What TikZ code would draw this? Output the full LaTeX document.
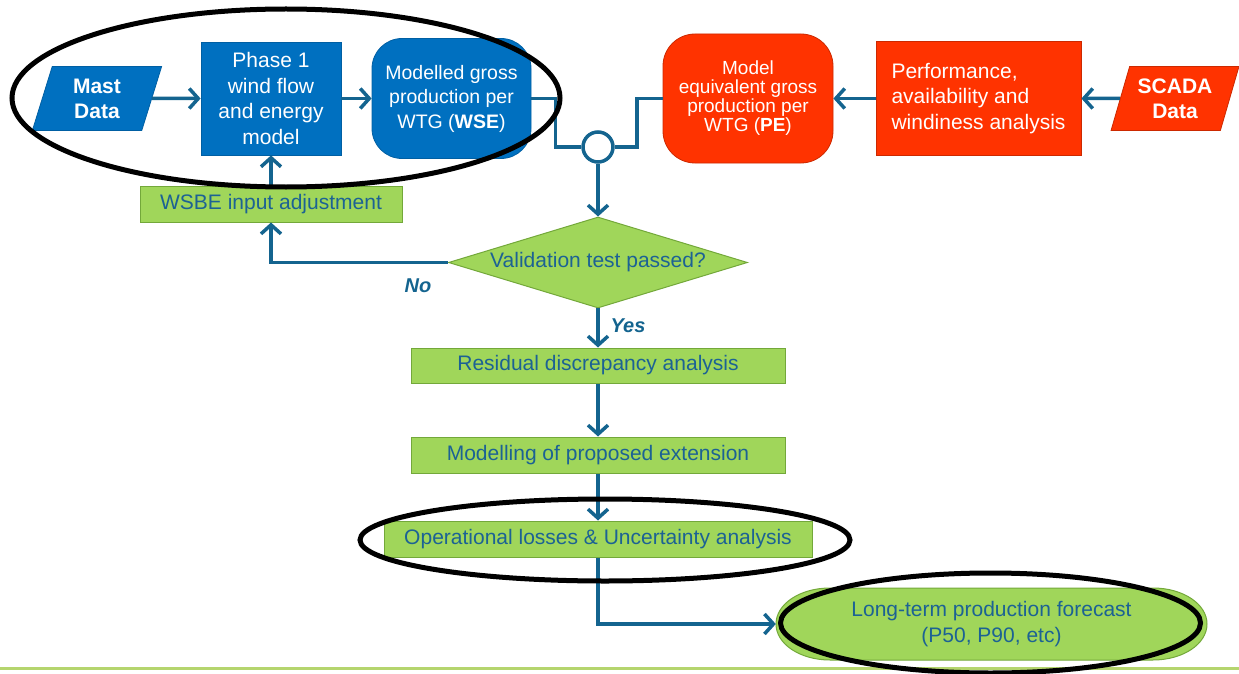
\documentclass[tikz,border=0pt]{standalone}
\usepackage{fontspec}
\setmainfont{Liberation Sans}
\usetikzlibrary{shapes.geometric,arrows.meta}

\definecolor{flowblue}{RGB}{20,100,143}
\definecolor{wsblue}{RGB}{0,112,192}
\definecolor{pered}{RGB}{255,51,0}
\definecolor{stepgreen}{RGB}{160,214,90}
\definecolor{stepedge}{RGB}{115,168,58}
\definecolor{steptext}{RGB}{28,98,148}
\definecolor{rulegreen}{RGB}{181,213,110}

\tikzset{
   txt/.style={font=\fontsize{21pt}{25.5pt}\selectfont, align=center, inner sep=0pt},
   bluebox/.style={txt, fill=wsblue, draw=wsblue!85!black, text=white, line width=0.8pt},
   redbox/.style={txt, fill=pered, draw=pered!80!black, text=white, line width=0.8pt},
   greenbox/.style={txt, fill=stepgreen, draw=stepedge, text=steptext, line width=1pt},
   datain/.style={trapezium, trapezium stretches=true, minimum height=64pt,
      font=\bfseries\fontsize{21pt}{25pt}\selectfont},
   link/.style={draw=flowblue, line width=3.5pt},
   flow/.style={link, -{Straight Barb[length=9pt,width=20pt,line width=3.5pt]}},
   marker/.style={draw=black, line width=5pt},
   answer/.style={txt, text=flowblue, font=\bfseries\itshape\fontsize{20pt}{24pt}\selectfont}
}

\begin{document}
\begin{tikzpicture}[x=1pt,y=-1pt]
         \useasboundingbox (0,0) rectangle (1239,674);
         \draw[rulegreen, line width=3pt] (0,668) -- (1239,668);

         % top row
         \node[bluebox, datain, trapezium left angle=75, trapezium right angle=105, minimum width=130pt, name=mast] at (97,98.5) {Mast\\Data};
         \node[bluebox, minimum width=140pt, minimum height=113pt, name=phase] at (271,98.5) {Phase 1\\wind flow\\and energy\\model};
         \node[bluebox, rounded corners=30pt, minimum width=159pt, minimum height=120pt, font=\fontsize{19.5pt}{24.5pt}\selectfont, name=wse] at (451.5,98.5) {Modelled gross\\production per\\WTG (\textbf{WSE})};
         \node[circle, draw=flowblue, line width=3.5pt, fill=white, minimum size=30pt, inner sep=0pt, name=junc] at (598,147) {};
         \node[redbox, rounded corners=32pt, minimum width=170pt, minimum height=129pt, font=\fontsize{19pt}{19pt}\selectfont, name=pe] at (748,98.5) {Model\\equivalent gross\\production per\\WTG (\textbf{PE})};
         \node[redbox, align=left, minimum width=205pt, minimum height=114pt, name=perf] at (978.5,98.5) {Performance,\\availability and\\windiness analysis};
         \node[redbox, datain, trapezium left angle=69, trapezium right angle=111, minimum width=128pt, name=scada] at (1175,98.5) {SCADA\\Data};

         % checks and steps
         \node[greenbox, minimum width=262pt, minimum height=36pt, name=wsbe] at (271,204) {WSBE input adjustment};
         \node[greenbox, diamond, aspect=3.3, minimum width=299pt, minimum height=91pt, name=valid] at (598,262.5) {Validation test passed?};
         \node[greenbox, minimum width=374pt, minimum height=35pt, name=resid] at (598,365.5) {Residual discrepancy analysis};
         \node[greenbox, minimum width=374pt, minimum height=36pt, name=ext] at (598,455) {Modelling of proposed extension};
         \node[greenbox, minimum width=428pt, minimum height=36pt, name=oploss] at (598,539) {Operational losses \& Uncertainty analysis};
         \path[fill=stepgreen, draw=stepedge, line width=1pt] (776,624) .. controls (776,604) and (800,588) .. (830,588) -- (1153,588) .. controls (1183,588) and (1207,604) .. (1207,624) .. controls (1207,644) and (1183,660) .. (1153,660) -- (830,660) .. controls (800,660) and (776,644) .. (776,624) -- cycle;
         \node[txt, ellipse, text=steptext, minimum width=431pt, minimum height=72pt, name=longterm] at (991.5,624) {Long-term production forecast\\(P50, P90, etc)};

         \node[answer, name=no] at (418,286) {No};
         \node[answer, name=yes] at (628,326) {Yes};

         \path[flow]
            (mast)  edge (phase)
            (phase) edge (wse)
            (scada) edge (perf)
            (perf)  edge (pe)
            (wsbe)  edge (phase)
            (junc)  edge (valid)
            (valid) edge (resid)
            (resid) edge (ext)
            (ext)   edge (oploss);
         \draw[link] (wse.east) -- ++(24,0) |- (junc.west);
         \draw[link] (junc.east) -- ++(22,0) |- (pe.west);
         \draw[flow] (valid.west) -| (wsbe.south);
         \draw[flow] (oploss.south) |- (longterm.west);

         % highlighted parts
         \draw[marker] (286,98) ellipse [x radius=274pt, y radius=89pt];
         \draw[marker] (605,540) ellipse [x radius=245pt, y radius=41pt];
         \draw[marker] (990.5,623) ellipse [x radius=210pt, y radius=50pt];
\end{tikzpicture}
\end{document}
